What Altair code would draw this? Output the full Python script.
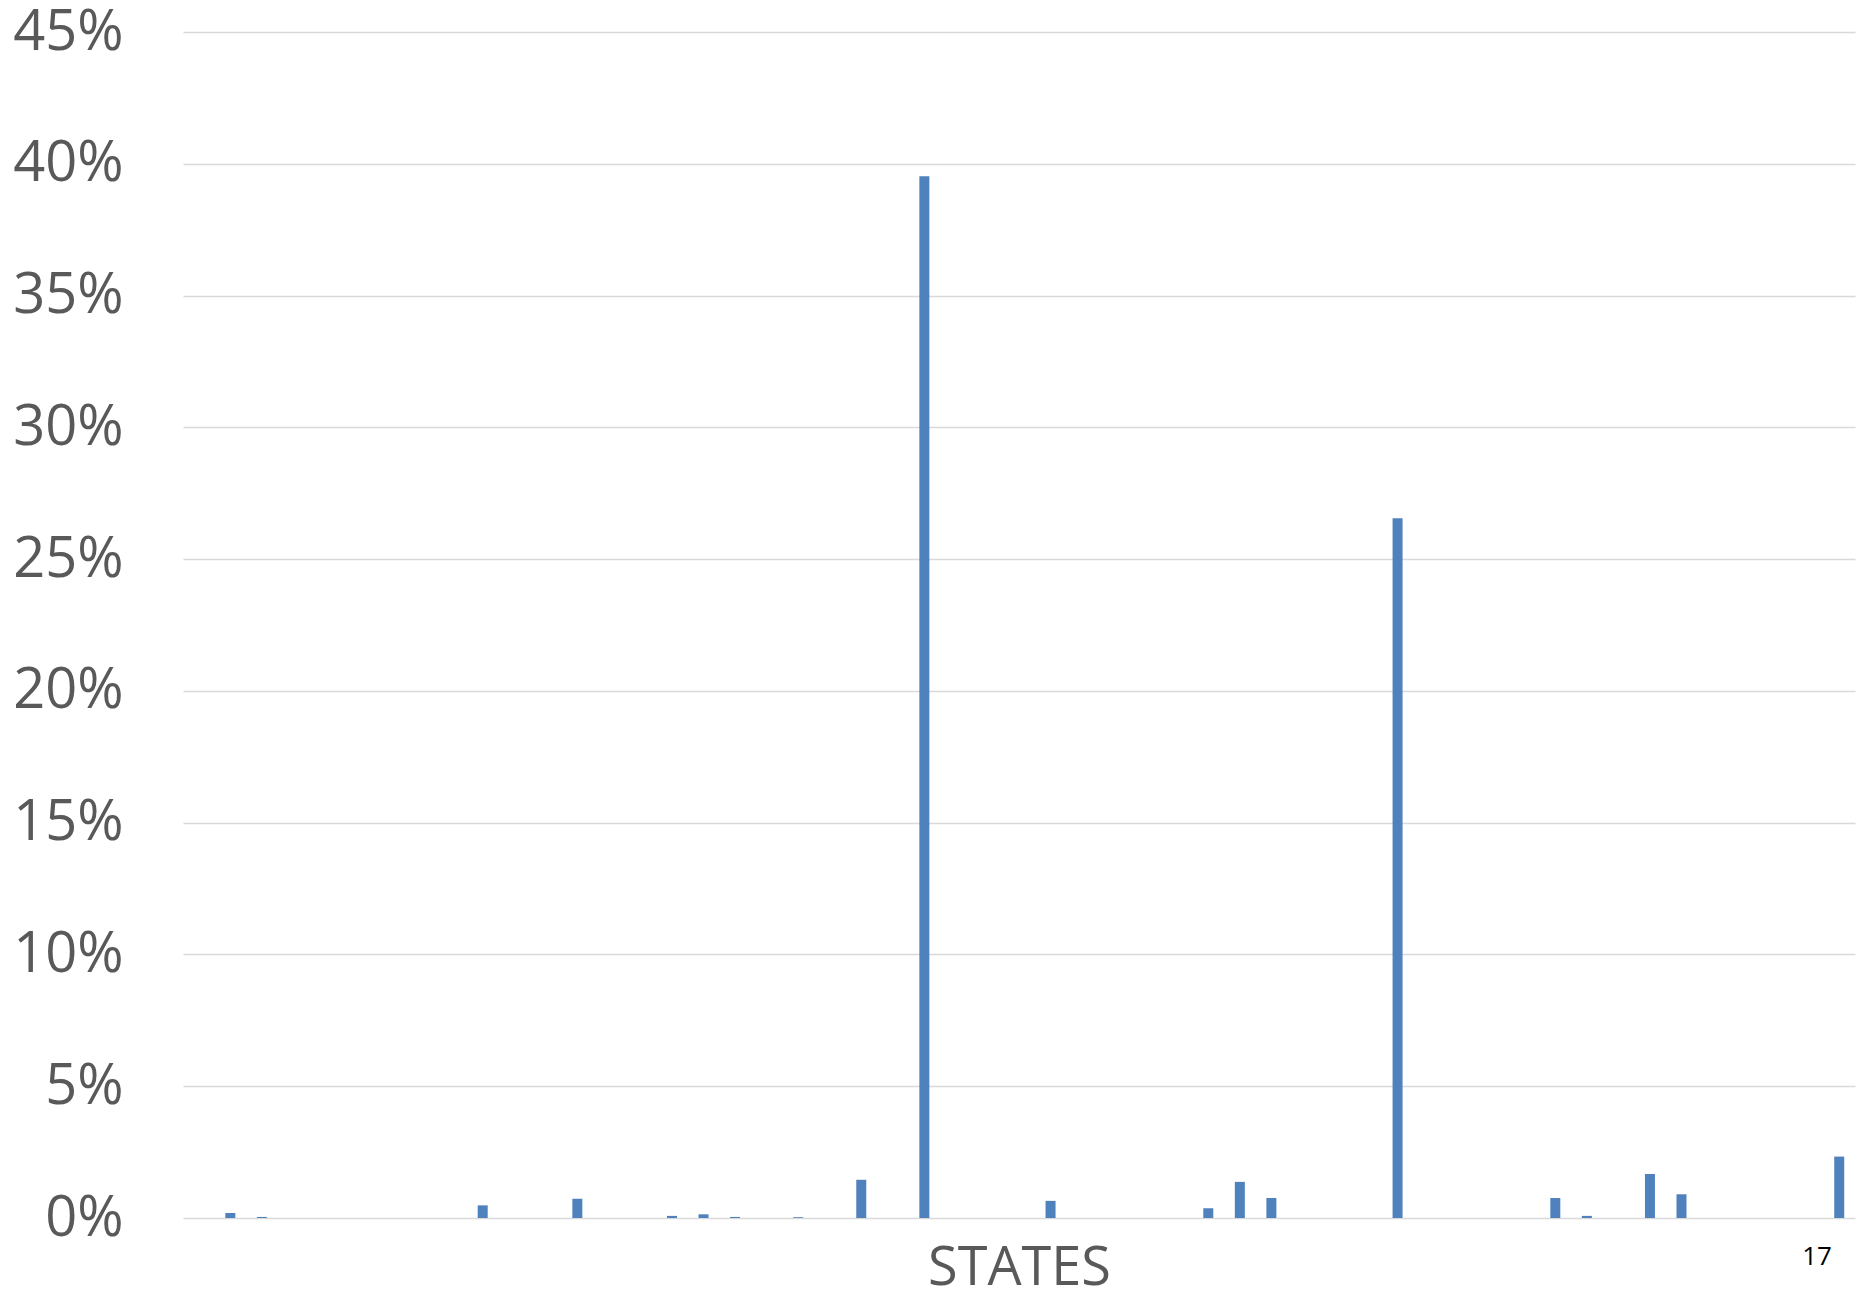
import altair as alt
import pandas as pd

# 53 state categories (labels not shown on the reference axis)
states = [str(i) for i in range(1, 54)]
shares = [
    0.0, 0.19, 0.04, 0.0, 0.0, 0.0, 0.0, 0.0, 0.0, 0.48,
    0.0, 0.0, 0.73, 0.0, 0.0, 0.08, 0.14, 0.04, 0.0, 0.03,
    0.0, 1.45, 0.0, 39.53, 0.0, 0.0, 0.0, 0.65, 0.0, 0.0,
    0.0, 0.0, 0.37, 1.37, 0.76, 0.0, 0.0, 0.0, 26.55, 0.0,
    0.0, 0.0, 0.0, 0.76, 0.08, 0.0, 1.67, 0.90, 0.0, 0.0,
    0.0, 0.0, 2.33,
]
y_ticks = [0, 0.05, 0.10, 0.15, 0.20, 0.25, 0.30, 0.35, 0.40, 0.45]
page_number = "17"

df = pd.DataFrame({"state": states, "share": [v / 100 for v in shares]})

W, H = 1672, 1186
FONT = "Open Sans"
GREY = "#595959"

bars = alt.Chart(df).mark_bar(size=10, color="#4f81bd").encode(
    x=alt.X(
        "state:N",
        sort=states,
        scale=alt.Scale(paddingInner=0, paddingOuter=0),
        axis=alt.Axis(
            title="STATES",
            labels=False,
            ticks=False,
            domain=False,
            titleFont=FONT,
            titleFontSize=54,
            titleFontWeight="normal",
            titleColor=GREY,
            titleBaseline="alphabetic",
            titleY=66,
        ),
    ),
    y=alt.Y(
        "share:Q",
        scale=alt.Scale(domain=[0, 0.45], nice=False),
        axis=alt.Axis(
            title=None,
            values=y_ticks,
            format=".0%",
            ticks=False,
            domain=False,
            labelFont=FONT,
            labelFontSize=56,
            labelColor=GREY,
            labelPadding=60,
            gridColor="#d9d9d9",
            gridWidth=1.6,
        ),
    ),
)

pn = alt.Chart(pd.DataFrame({"t": [page_number]})).mark_text(
    font=FONT, fontSize=26, color="#000000", align="center", baseline="middle"
).encode(text="t:N", x=alt.value(1634), y=alt.value(1225))

chart = alt.layer(bars, pn).properties(
    width=W,
    height=H,
    padding={"left": 175, "top": 24, "right": 2, "bottom": 72},
    autosize=alt.AutoSizeParams(type="none"),
).configure_view(stroke=None)

chart.save("out.html", embed_options={"renderer": "svg", "actions": False})
